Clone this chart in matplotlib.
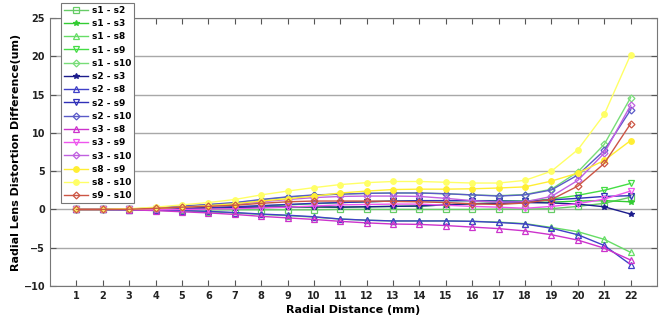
import matplotlib
matplotlib.use("Agg")
import matplotlib.pyplot as plt

x = list(range(1, 23))

labels = ["s1 - s2", "s1 - s3", "s1 - s8", "s1 - s9", "s1 - s10",
          "s2 - s3", "s2 - s8", "s2 - s9", "s2 - s10",
          "s3 - s8", "s3 - s9", "s3 - s10",
          "s8 - s9", "s8 - s10", "s9 - s10"]

s1_s2 = [0, 0, 0, -0.02, -0.05, -0.05, -0.05, -0.05, -0.05, -0.05, 0, 0, 0, 0, 0, 0, 0.05, 0.05, 0.1, 0.4, 0.8, 1.6]
s1_s3 = [0, 0, 0, 0.05, 0.1, 0.15, 0.2, 0.25, 0.3, 0.3, 0.3, 0.35, 0.4, 0.45, 0.6, 0.75, 0.85, 0.95, 0.95, 1.1, 1.15, 1.0]
s1_s8 = [0, 0, -0.05, -0.1, -0.2, -0.3, -0.45, -0.65, -0.8, -1.0, -1.25, -1.4, -1.5, -1.5, -1.5, -1.55, -1.65, -1.85, -2.35, -2.9, -3.9, -5.6]
s1_s9 = [0, 0, 0.02, 0.05, 0.1, 0.2, 0.3, 0.45, 0.6, 0.75, 0.9, 1.0, 1.1, 1.15, 1.15, 1.15, 1.15, 1.1, 1.35, 1.85, 2.5, 3.4]
s1_s10 = [0, 0, 0.05, 0.2, 0.4, 0.6, 0.85, 1.25, 1.6, 1.85, 2.0, 2.1, 2.15, 2.15, 2.05, 1.9, 1.8, 1.95, 2.65, 4.9, 8.5, 14.6]
s2_s3 = [0, 0, 0, 0.07, 0.15, 0.2, 0.25, 0.3, 0.35, 0.35, 0.3, 0.35, 0.4, 0.45, 0.6, 0.75, 0.8, 0.9, 0.85, 0.7, 0.35, -0.6]
s2_s8 = [0, 0, -0.05, -0.08, -0.15, -0.25, -0.4, -0.6, -0.75, -0.95, -1.25, -1.4, -1.5, -1.5, -1.5, -1.55, -1.7, -1.9, -2.45, -3.3, -4.7, -7.2]
s2_s9 = [0, 0, 0.02, 0.07, 0.15, 0.25, 0.35, 0.5, 0.65, 0.8, 0.9, 1.0, 1.1, 1.15, 1.15, 1.15, 1.1, 1.05, 1.25, 1.45, 1.7, 1.8]
s2_s10 = [0, 0, 0.05, 0.22, 0.45, 0.65, 0.9, 1.3, 1.65, 1.9, 2.0, 2.1, 2.15, 2.15, 2.05, 1.9, 1.75, 1.9, 2.55, 4.5, 7.7, 13.0]
s3_s8 = [0, 0, -0.05, -0.15, -0.3, -0.45, -0.65, -0.9, -1.1, -1.3, -1.55, -1.75, -1.9, -1.95, -2.1, -2.3, -2.5, -2.8, -3.3, -4.0, -5.05, -6.6]
s3_s9 = [0, 0, 0.02, 0, 0, 0.05, 0.1, 0.2, 0.3, 0.45, 0.6, 0.65, 0.7, 0.7, 0.55, 0.4, 0.3, 0.15, 0.4, 0.75, 1.35, 2.4]
s3_s10 = [0, 0, 0.05, 0.15, 0.3, 0.45, 0.65, 1.0, 1.3, 1.55, 1.7, 1.75, 1.75, 1.7, 1.45, 1.15, 0.95, 1.0, 1.7, 3.8, 7.35, 13.6]
s8_s9 = [0, 0, 0.07, 0.15, 0.3, 0.5, 0.75, 1.1, 1.4, 1.75, 2.15, 2.4, 2.6, 2.65, 2.65, 2.7, 2.8, 2.95, 3.7, 4.75, 6.4, 9.0]
s8_s10 = [0, 0, 0.1, 0.3, 0.6, 0.9, 1.3, 1.9, 2.4, 2.85, 3.25, 3.5, 3.65, 3.65, 3.55, 3.45, 3.45, 3.8, 5.0, 7.8, 12.4, 20.2]
s9_s10 = [0, 0, 0.03, 0.15, 0.3, 0.4, 0.55, 0.8, 1.0, 1.1, 1.1, 1.1, 1.05, 1.0, 0.9, 0.75, 0.65, 0.85, 1.3, 3.05, 6.0, 11.2]

series = [s1_s2, s1_s3, s1_s8, s1_s9, s1_s10, s2_s3, s2_s8, s2_s9, s2_s10,
          s3_s8, s3_s9, s3_s10, s8_s9, s8_s10, s9_s10]

colors = ["#66cc66", "#33cc33", "#66dd66", "#44dd44", "#77dd77",
          "#1c1c8c", "#4040c8", "#3030b8", "#5a5ac8",
          "#cc33cc", "#ee55ee", "#c060e0",
          "#ffee33", "#ffff66", "#cc5544"]
markers = ["s", "*", "^", "v", "D",
           "*", "^", "v", "D",
           "^", "v", "D",
           "o", "o", "D"]
filled = [False, True, False, False, False,
          True, False, False, False,
          False, False, False,
          True, True, False]

fig = plt.figure(figsize=(6.62, 3.2), dpi=100)
ax = fig.add_axes([0.0755, 0.106, 0.917, 0.838])

for vals, lab, c, m, f in zip(series, labels, colors, markers, filled):
    ms = 3.5 if m == "D" else 4
    ax.plot(x, vals, color=c, marker=m, markersize=ms, linewidth=1.0,
            markerfacecolor=c if f else "none", markeredgewidth=0.9,
            label=lab)

ax.set_xlim(0, 23)
ax.set_ylim(-10, 25)
ax.set_xticks(x)
ax.set_yticks(range(-10, 26, 5))
ax.yaxis.grid(True, color="#a8a8a8", linewidth=1.0)
ax.set_axisbelow(True)
ax.tick_params(direction="in", top=True, right=True, length=4, width=0.8,
               colors="#555555", labelcolor="#222222", labelsize=7)
for lbl in ax.get_xticklabels() + ax.get_yticklabels():
    lbl.set_fontweight("bold")
for sp in ax.spines.values():
    sp.set_color("#777777")
    sp.set_linewidth(0.8)

ax.set_xlabel("Radial Distance (mm)", fontsize=8, fontweight="bold", labelpad=3)
ax.set_ylabel("Radial Lens Distortion Difference(um)", fontsize=8, fontweight="bold", labelpad=2)

leg = fig.legend(loc="upper left", bbox_to_anchor=(0.0925, 0.99),
                 prop={"weight": "bold", "size": 6.5}, handlelength=2.7,
                 labelspacing=0.47, borderpad=0.3, handletextpad=0.4,
                 borderaxespad=0.0,
                 fancybox=False, edgecolor="#777777", framealpha=1)
leg.get_frame().set_linewidth(0.8)

fig.savefig("out.png", dpi=100)
